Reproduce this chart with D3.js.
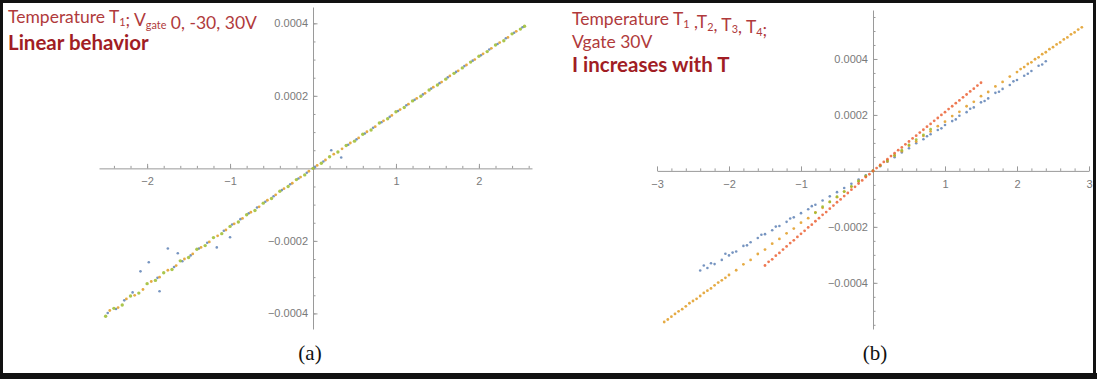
<!DOCTYPE html>
<html>
<head>
<meta charset="utf-8">
<script src="https://cdn.jsdelivr.net/npm/d3@7"></script>
<style>
body { margin: 0; background: #fff; }
svg { display: block; }
.tick text { fill: #7a7a7a; font-family: "Liberation Sans", Arial, sans-serif; font-size: 11px; }
.tick line, .domain { stroke: #9a9a9a; }
.note { font-family: Lato, "Open Sans", sans-serif; }
</style>
</head>
<body>
<svg id="vis" width="1097" height="379"></svg>
<script>
// Values. Voltage in V, current in microamps.

const xTicksA = [-2, -1, 1, 2]
const xTicksB = [-3, -2, -1, 1, 2, 3]
const yTicks = [-400, -200, 200, 400]

const colors = {blue: '#5e81b5', orange: '#e19c24', green: '#9cbc2e', red: '#eb6235'}

// panel (a): Temperature T1, Vgate 0, -30, 30 V
const aBlue = [
  [-2.475, -399], [-2.375, -388], [-2.275, -364], [-2.175, -342], [-2.08, -284], [-1.98, -259],
  [-1.875, -302], [-1.85, -339], [-1.75, -221], [-1.675, -272], [-1.63, -234], [-1.575, -256],
  [-1.475, -240], [-1.375, -221], [-1.275, -205], [-1.16, -218], [-1.075, -172], [-1.0, -190],
  [-0.975, -155], [-0.875, -140], [-0.775, -124], [-0.675, -108], [-0.575, -92], [-0.475, -77],
  [-0.375, -60], [-0.275, -44], [-0.175, -28], [-0.075, -12], [0.025, 4], [0.125, 19],
  [0.22, 50], [0.34, 30], [0.425, 65], [0.525, 80], [0.625, 96], [0.725, 112], [0.825, 127],
  [0.925, 142], [1.025, 158], [1.125, 174], [1.225, 189], [1.325, 204], [1.425, 220],
  [1.525, 235], [1.625, 251], [1.725, 266], [1.825, 282], [1.925, 297], [2.025, 312],
  [2.125, 328], [2.225, 343], [2.325, 359], [2.425, 374], [2.525, 389]
]
const aOrange = [
  [-2.45, -392], [-2.35, -384], [-2.25, -360], [-2.15, -350], [-2.05, -334], [-1.95, -312],
  [-1.85, -300], [-1.75, -281], [-1.65, -268], [-1.55, -250], [-1.45, -236], [-1.35, -218],
  [-1.25, -203], [-1.15, -186], [-1.05, -170], [-0.95, -153], [-0.85, -138], [-0.75, -121],
  [-0.65, -106], [-0.55, -88], [-0.45, -73], [-0.35, -56], [-0.25, -41], [-0.15, -24],
  [-0.05, -8], [0.05, 8], [0.15, 23], [0.25, 39], [0.35, 54], [0.45, 70], [0.55, 84],
  [0.65, 101], [0.75, 115], [0.85, 131], [0.95, 146], [1.05, 162], [1.15, 177], [1.25, 193],
  [1.35, 207], [1.45, 224], [1.55, 238], [1.65, 255], [1.75, 269], [1.85, 285], [1.95, 300],
  [2.05, 316], [2.15, 331], [2.25, 347], [2.35, 361], [2.45, 378]
]
const aGreen = [
  [-2.5, -408], [-2.4, -386], [-2.3, -377], [-2.2, -352], [-2.1, -344], [-2.0, -318],
  [-1.9, -309], [-1.8, -288], [-1.7, -279], [-1.6, -255], [-1.5, -246], [-1.4, -223],
  [-1.3, -213], [-1.2, -191], [-1.1, -180], [-1.0, -160], [-0.9, -148], [-0.8, -128],
  [-0.7, -116], [-0.6, -96], [-0.5, -83], [-0.4, -63], [-0.3, -50], [-0.2, -31], [-0.1, -18],
  [0.0, 0], [0.1, 14], [0.2, 32], [0.3, 45], [0.4, 63], [0.5, 75], [0.6, 94], [0.7, 106],
  [0.8, 125], [0.9, 137], [1.0, 156], [1.1, 168], [1.2, 186], [1.3, 199], [1.4, 216],
  [1.5, 230], [1.6, 246], [1.7, 262], [1.8, 277], [1.9, 293], [2.0, 309], [2.1, 322],
  [2.2, 340], [2.3, 352], [2.4, 371], [2.5, 384], [2.55, 392]
]

// panel (b): Temperatures T1..T4, Vgate 30 V
const bBlue = [
  [-2.40, -356], [-2.35, -338], [-2.30, -347], [-2.25, -330], [-2.20, -333], [-2.10, -318],
  [-2.05, -296], [-2.00, -302], [-1.95, -292], [-1.90, -288], [-1.80, -268], [-1.75, -266],
  [-1.70, -255], [-1.60, -240], [-1.55, -228], [-1.50, -226], [-1.40, -212], [-1.35, -199],
  [-1.30, -197], [-1.20, -182], [-1.15, -170], [-1.10, -166], [-1.00, -151], [-0.90, -137],
  [-0.85, -126], [-0.80, -121], [-0.70, -106], [-0.60, -91], [-0.50, -76], [-0.40, -61],
  [-0.30, -46], [-0.20, -31], [-0.10, -16], [0, 0], [0.10, 17], [0.20, 33], [0.30, 49],
  [0.40, 66], [0.50, 81], [0.60, 99], [0.70, 113], [0.75, 124], [0.80, 131], [0.90, 146],
  [0.95, 152], [1.00, 164], [1.10, 178], [1.15, 184], [1.20, 197], [1.30, 210], [1.35, 222],
  [1.40, 227], [1.50, 245], [1.55, 250], [1.60, 259], [1.70, 279], [1.75, 283], [1.80, 293],
  [1.90, 307], [1.95, 320], [2.00, 325], [2.10, 340], [2.15, 347], [2.20, 357], [2.30, 376],
  [2.35, 380], [2.40, 392]
]
const bOrange = [
  [-2.90, -540], [-2.85, -531], [-2.80, -521], [-2.75, -511], [-2.70, -502], [-2.65, -494],
  [-2.60, -484], [-2.55, -473], [-2.50, -465], [-2.45, -457], [-2.40, -447], [-2.35, -436],
  [-2.30, -428], [-2.25, -420], [-2.20, -409], [-2.15, -399], [-2.10, -391], [-2.05, -382],
  [-2.00, -372], [-1.90, -355], [-1.80, -334], [-1.70, -318], [-1.60, -297], [-1.50, -281],
  [-1.40, -260], [-1.30, -243], [-1.20, -223], [-1.10, -206], [-1.00, -185], [-0.90, -169],
  [-0.80, -148], [-0.70, -132], [-0.60, -111], [-0.50, -94], [-0.40, -74], [-0.30, -57],
  [-0.20, -36], [-0.10, -20], [0, 0], [0.10, 19], [0.20, 34], [0.30, 54], [0.40, 70],
  [0.50, 90], [0.60, 105], [0.70, 125], [0.80, 141], [0.90, 160], [1.00, 176], [1.10, 196],
  [1.20, 211], [1.30, 231], [1.40, 247], [1.50, 267], [1.60, 282], [1.70, 302], [1.80, 318],
  [1.90, 337], [2.00, 353], [2.05, 364], [2.10, 371], [2.15, 382], [2.20, 388], [2.25, 399],
  [2.30, 406], [2.35, 417], [2.40, 424], [2.45, 435], [2.50, 442], [2.55, 452], [2.60, 459],
  [2.65, 470], [2.70, 477], [2.75, 488], [2.80, 495], [2.85, 505], [2.90, 513]
]
const bGreen = [
  [-0.8, -150], [-0.7, -128], [-0.6, -111], [-0.5, -92], [-0.4, -74], [-0.3, -55], [-0.2, -37],
  [-0.1, -18], [0, 0], [0.1, 19], [0.2, 37], [0.3, 56], [0.4, 74], [0.5, 93], [0.6, 112],
  [0.7, 129], [0.8, 149]
]
const bRed = [
  [-1.50, -338], [-1.45, -325], [-1.40, -316], [-1.35, -303], [-1.30, -293], [-1.25, -281],
  [-1.20, -270], [-1.15, -258], [-1.10, -248], [-1.05, -236], [-1.00, -225], [-0.95, -214],
  [-0.90, -202], [-0.85, -192], [-0.80, -180], [-0.75, -169], [-0.70, -157], [-0.65, -147],
  [-0.60, -135], [-0.55, -124], [-0.50, -112], [-0.45, -102], [-0.40, -90], [-0.35, -79],
  [-0.30, -67], [-0.25, -57], [-0.20, -45], [-0.15, -34], [-0.10, -22], [-0.05, -12], [0, 0],
  [0.05, 10], [0.10, 21], [0.15, 32], [0.20, 42], [0.25, 53], [0.30, 63], [0.35, 74],
  [0.40, 84], [0.45, 95], [0.50, 105], [0.55, 116], [0.60, 126], [0.65, 137], [0.70, 147],
  [0.75, 158], [0.80, 168], [0.85, 179], [0.90, 189], [0.95, 200], [1.00, 210], [1.05, 221],
  [1.10, 231], [1.15, 242], [1.20, 252], [1.25, 263], [1.30, 273], [1.35, 284], [1.40, 294],
  [1.45, 305], [1.50, 315]
]

const svg = d3.select('#vis')

// frame round the whole figure
svg.append('rect').attr('x', 1.5).attr('y', 1.5).attr('width', 1093).attr('height', 373)
    .attr('fill', 'none').attr('stroke', '#111').attr('stroke-width', 3)
svg.append('rect').attr('x', 0).attr('y', 373).attr('width', 1097).attr('height', 6).attr('fill', '#111')

function drawPanel(x, y, xTicks, series) {
    let g = svg.append('g')
    let fmtY = v => d3.format('.4f')(v / 1e6)

    // minor ticks
    let xMinor = d3.range(Math.ceil(x.domain()[0] * 5), Math.floor(x.domain()[1] * 5) + 1).map(d => d / 5)
    let yMinor = d3.range(Math.ceil(y.domain()[0] / 50), Math.floor(y.domain()[1] / 50) + 1).map(d => d * 50)

    g.append('g').attr('transform', `translate(0,${y(0)})`)
        .call(d3.axisBottom(x).tickValues(xMinor).tickSizeInner(-2.5).tickSizeOuter(0).tickFormat(''))
        .call(a => a.select('.domain').remove())
    g.append('g').attr('transform', `translate(${x(0)},0)`)
        .call(d3.axisLeft(y).tickValues(yMinor).tickSizeInner(-2.5).tickSizeOuter(0).tickFormat(''))
        .call(a => a.select('.domain').remove())

    g.append('g').attr('transform', `translate(0,${y(0)})`)
        .call(d3.axisBottom(x).tickValues(xTicks).tickSizeInner(-4.5).tickSizeOuter(0).tickPadding(9).tickFormat(d3.format('d')))
    g.append('g').attr('transform', `translate(${x(0)},0)`)
        .call(d3.axisLeft(y).tickValues(yTicks).tickSizeInner(-4.5).tickSizeOuter(0).tickPadding(5).tickFormat(fmtY))

    series.forEach(s => {
        g.append('g').selectAll('circle')
            .data(s.data)
            .enter()
            .append('circle')
                .attr('cx', d => x(d[0]))
                .attr('cy', d => y(d[1]))
                .attr('r', s.r)
                .attr('fill', s.color)
                .attr('opacity', 0.85)
    })
}

let xA = d3.scaleLinear([-2.58, 2.64], [99, 532])
let yA = d3.scaleLinear([-443, 445], [329, 7])
drawPanel(xA, yA, xTicksA, [
    {data: aBlue, color: colors.blue, r: 1.3},
    {data: aOrange, color: colors.orange, r: 1.4},
    {data: aGreen, color: colors.green, r: 1.7}
])

let xB = d3.scaleLinear([-3, 3], [657, 1089])
let yB = d3.scaleLinear([-565, 575], [329, 10])
drawPanel(xB, yB, xTicksB, [
    {data: bBlue, color: colors.blue, r: 1.3},
    {data: bOrange, color: colors.orange, r: 1.4},
    {data: bGreen, color: colors.green, r: 1.4},
    {data: bRed, color: colors.red, r: 1.4}
])

// annotations
function note(xPos, yPos, size, weight, color, parts) {
    let t = svg.append('text').attr('class', 'note')
        .attr('x', xPos).attr('y', yPos)
        .attr('font-size', size).attr('font-weight', weight).attr('fill', color)
    parts.forEach(p => {
        if (p.sub) {
            t.append('tspan').attr('font-size', size * 0.62).attr('dy', size * 0.16).text(p.sub)
            t.append('tspan').attr('dy', -size * 0.16).text('')
        } else {
            t.append('tspan').text(p.t)
        }
    })
}

note(8, 23, 17.5, 400, '#b03a3c', [{t: 'Temperature T'}, {sub: '1'}, {t: '; V'}, {sub: 'gate'}, {t: ' 0, -30, 30V'}])
note(8, 50, 20.5, 700, '#a11d24', [{t: 'Linear behavior'}])

note(572, 25, 17.5, 400, '#b03a3c', [{t: 'Temperature T'}, {sub: '1'}, {t: ' ,T'}, {sub: '2'}, {t: ', T'}, {sub: '3'}, {t: ', T'}, {sub: '4'}, {t: ';'}])
note(572, 48, 17.5, 400, '#b03a3c', [{t: 'Vgate 30V'}])
note(572, 72, 20.5, 700, '#a11d24', [{t: 'I increases with T'}])

svg.append('text').attr('x', 310).attr('y', 360).attr('text-anchor', 'middle')
    .attr('font-family', '"Liberation Serif", serif').attr('font-size', 21).attr('fill', '#111').text('(a)')
svg.append('text').attr('x', 875).attr('y', 360).attr('text-anchor', 'middle')
    .attr('font-family', '"Liberation Serif", serif').attr('font-size', 21).attr('fill', '#111').text('(b)')
</script>
</body>
</html>
